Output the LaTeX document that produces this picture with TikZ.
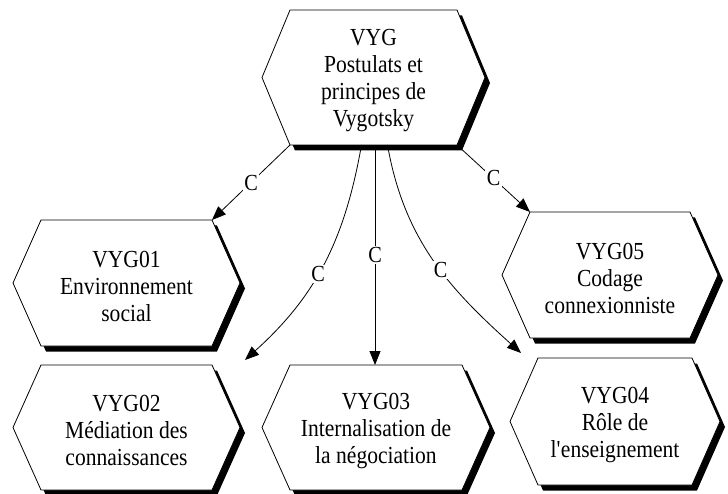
\documentclass[tikz,border=0pt]{standalone}
\usepackage{fontspec}
\setmainfont{Liberation Serif}[FakeStretch=0.88]
\usetikzlibrary{arrows.meta,calc}

% One hexagonal box with a drop shadow:
% #1 name, #2 centre x, #3 centre y (downwards), #4 half width, #5 half height, #6 text
\newcommand{\hexcell}[6]{%
  \begin{scope}[shift={(#2,-#3)}]
    \fill[black,shift={(5,-5.5)}]
      (-#4,0) -- ({-#4+28},#5) -- ({#4-28},#5) -- (#4,0) -- ({#4-28},-#5) -- ({-#4+28},-#5) -- cycle;
    \draw[hexline,fill=white]
      (-#4,0) -- ({-#4+28},#5) -- ({#4-28},#5) -- (#4,0) -- ({#4-28},-#5) -- ({-#4+28},-#5) -- cycle;
    \coordinate (#1-nw) at ({-#4+28},#5);
    \coordinate (#1-ne) at ({#4-28},#5);
    \coordinate (#1-sw) at ({-#4+28},-#5);
    \coordinate (#1-se) at ({#4-28},-#5);
    \coordinate (#1-n) at (0,#5);
    \coordinate (#1-s) at (0,-#5);
    \node[boxtext] (#1) at (0,-3) {#6};
  \end{scope}}

\tikzset{
  hexline/.style={line width=0.8pt},
  boxtext/.style={align=center, inner sep=0pt,
    font=\fontsize{24.5}{27}\selectfont},
  arr/.style={line width=0.8pt, -{Triangle[length=14,width=11]}},
  lbl/.style={fill=white, inner sep=1.5pt, font=\fontsize{23}{23}\selectfont},
}

\begin{document}
\begin{tikzpicture}[x=1pt,y=1pt]
  \useasboundingbox (0,-494) rectangle (728,0);

  \hexcell{vyg}{373.5}{77.5}{111.5}{67.5}{VYG\\Postulats et\\principes de\\Vygotsky}
  \hexcell{v1}{126.5}{283}{113.5}{63}{VYG01\\Environnement\\social}
  \hexcell{v5}{610}{275}{108}{63}{VYG05\\Codage\\connexionniste}
  \hexcell{v2}{126.5}{427.5}{113.5}{62.5}{VYG02\\M\'ediation des\\connaissances}
  \hexcell{v3}{376}{427.5}{114}{62.5}{VYG03\\Internalisation de\\la n\'egociation}
  \hexcell{v4}{615}{421.5}{105}{63.5}{VYG04\\R\^ole de\\l\textquotesingle enseignement}

  % links from the central principle to its components
  \draw[arr] (vyg-sw) -- node[lbl]{C} (v1-ne);
  \draw[arr] (vyg-se) -- node[lbl]{C} (v5-nw);
  \draw[arr] ([xshift=1.5pt]vyg-s) -- node[lbl,pos=0.5]{C} ([xshift=1.5pt]vyg-s |- v3-n);
  \draw[arr] ([xshift=-12pt]vyg-s) to[out=-100,in=42]
    node[lbl,pos=0.55]{C} ([shift={(33,5)}]v2-ne);
  \draw[arr] ([xshift=14pt]vyg-s) to[out=-80,in=138]
    node[lbl,pos=0.55]{C} ([shift={(-17,5)}]v4-nw);
\end{tikzpicture}
\end{document}
